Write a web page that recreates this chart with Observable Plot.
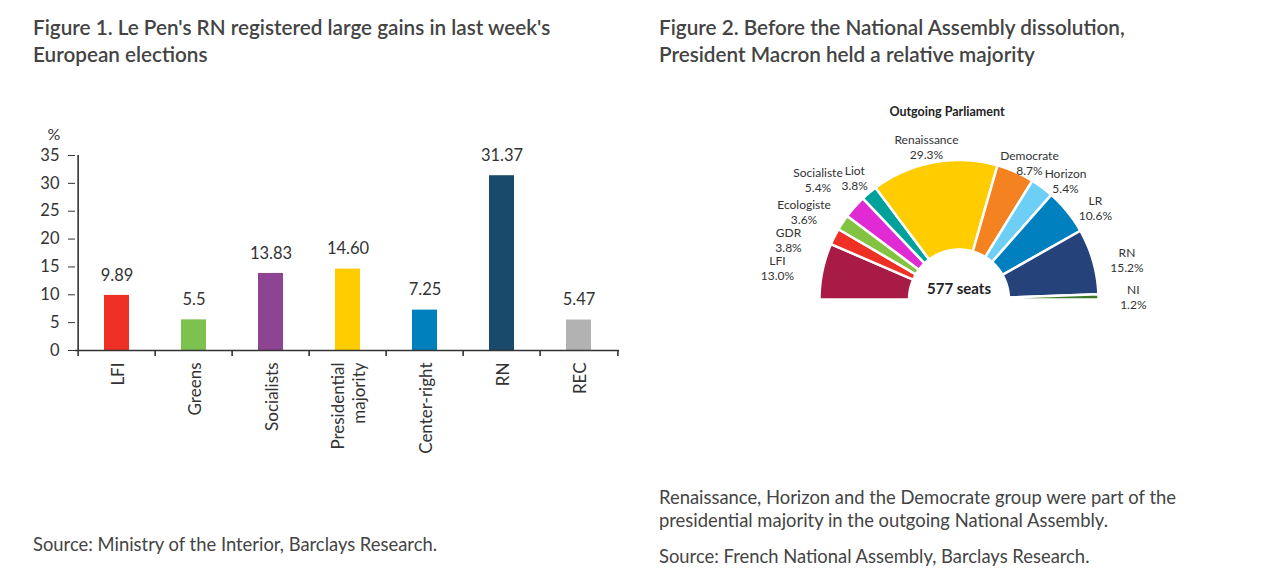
<!DOCTYPE html>
<html><head><meta charset="utf-8">
<script src="https://cdn.jsdelivr.net/npm/d3@7"></script>
<script src="https://cdn.jsdelivr.net/npm/@observablehq/plot@0.6"></script>
<style>
body{margin:0;width:1280px;height:578px;position:relative;background:#fff;font-family:Lato,sans-serif;color:#444;overflow:hidden}
.t{position:absolute;font-size:20.7px;font-weight:600;line-height:27px;color:#444;white-space:nowrap}
.s{position:absolute;font-size:18.4px;line-height:23px;color:#444;white-space:nowrap}
#c1{position:absolute;left:0;top:120px}
#c2{position:absolute;left:640px;top:95px}
</style></head><body>
<div class="t" style="left:33px;top:14px">Figure 1. Le Pen's RN registered large gains in last week's<br>European elections</div>
<div class="t" style="left:659px;top:14px">Figure 2. Before the National Assembly dissolution,<br>President Macron held a relative majority</div>
<div id="c1"></div>
<div id="c2"></div>
<div class="s" style="left:33px;top:533px">Source: Ministry of the Interior, Barclays Research.</div>
<div class="s" style="left:659px;top:486px">Renaissance, Horizon and the Democrate group were part of the<br>presidential majority in the outgoing National Assembly.</div>
<div class="s" style="left:659px;top:545px">Source: French National Assembly, Barclays Research.</div>
<script>
// ---- Figure 1 data ----
const euroParties = ["LFI","Greens","Socialists","Presidential\nmajority","Center-right","RN","REC"];
const euroVotes = [9.89, 5.5, 13.83, 14.60, 7.25, 31.37, 5.47];
const euroLabels = ["9.89","5.5","13.83","14.60","7.25","31.37","5.47"];
const euroColors = ["#EE3124","#7DC24E","#8D4493","#FFCC00","#0080BC","#1A4A6B","#B2B2B2"];
const yTicks = [0,5,10,15,20,25,30,35];

// ---- Figure 2 data ----
const seatParties = ["LFI","GDR","Ecologiste","Socialiste","Liot","Renaissance","Democrate","Horizon","LR","RN","NI"];
const seatShares = [13.0, 3.8, 3.6, 5.4, 3.8, 29.3, 8.7, 5.4, 10.6, 15.2, 1.2];
const seatColors = ["#A91B47","#EE3124","#82C341","#E02BD4","#00A19A","#FFCC00","#F58220","#6DCFF6","#0080BF","#25437A","#3C7A2A"];
const seatTotal = 577;

// ---- Figure 1 ----
const bars = euroParties.map((p,i)=>({party:p, value:euroVotes[i], label:euroLabels[i]}));
const W1=640, H1=360, mL=75, mR=21, mT=35, mB=130;
const step = (W1-mL-mR)/euroParties.length;
const frameH = H1-mT-mB;
const fig1 = Plot.plot({
  width:W1, height:H1, marginLeft:mL, marginRight:mR, marginTop:mT, marginBottom:mB,
  style:{fontFamily:"Lato, sans-serif", fontSize:"16px", color:"#333", background:"transparent", overflow:"visible"},
  x:{domain:euroParties, paddingInner:0.68, paddingOuter:0.34, axis:null},
  y:{domain:[0,35], axis:null},
  color:{domain:euroParties, range:euroColors},
  marks:[
    Plot.barY(bars,{x:"party", y:"value", fill:"party"}),
    Plot.text(bars,{x:"party", y:"value", text:"label", dy:-20, fontSize:16.5, fill:"#333"}),
    Plot.axisY({ticks:yTicks, tickSize:7, tickPadding:9, fontSize:16.5, stroke:"#333", fill:"#333", label:null}),
    Plot.axisX({tickRotate:-90, tickSize:0, tickPadding:12, fontSize:17, lineHeight:1.2, fill:"#333", label:null}),
    Plot.ruleY([0],{stroke:"#333", strokeWidth:1.6}),
    Plot.ruleX([euroParties[0]],{x:d=>d, dx:-step/2, stroke:"#333", strokeWidth:1.6}),
    Plot.ruleX(euroParties,{x:d=>d, dx:-step/2, insetTop:frameH, insetBottom:-6, stroke:"#333", strokeWidth:1.6}),
    Plot.ruleX([euroParties[euroParties.length-1]],{x:d=>d, dx:step/2, insetTop:frameH, insetBottom:-6, stroke:"#333", strokeWidth:1.6}),
    Plot.text(["%"],{frameAnchor:"top-left", dx:-28, dy:-27, fontSize:16, fill:"#333"})
  ]
});
document.getElementById("c1").append(fig1);

// ---- Figure 2 ----
const W2=640, H2=250, mL2=179, mR2=182, mT2=64.5, mB2=46;
const unitPx = (W2-mL2-mR2)/2;
const innerR = 0.358;
const arcSteps = 48;
const slicePts = [];
const mids = [];
let cum = 0;
seatParties.forEach((p,i)=>{
  const a0 = Math.PI - cum/100*Math.PI;
  cum += seatShares[i];
  const a1 = Math.PI - cum/100*Math.PI;
  const pts = [];
  for (let k=0;k<=arcSteps;k++){ const a=a0+(a1-a0)*k/arcSteps; pts.push({party:p, x:Math.cos(a), y:Math.sin(a)}); }
  for (let k=arcSteps;k>=0;k--){ const a=a0+(a1-a0)*k/arcSteps; pts.push({party:p, x:innerR*Math.cos(a), y:innerR*Math.sin(a)}); }
  pts.push({...pts[0]});
  slicePts.push(...pts);
  mids.push((a0+a1)/2);
});
// label layout: spread angles, then resolve remaining box collisions in pixel space
const labFont = 12, labLH = 15;
const minSep = 10*Math.PI/180;
const ang = mids.slice();
for (let it=0; it<200; it++){
  for (let i=0;i<ang.length-1;i++){
    const gap = ang[i]-ang[i+1];
    if (gap < minSep){ const d=(minSep-gap)/2; ang[i]+=d; ang[i+1]-=d; }
  }
}
const ctx = document.createElement("canvas").getContext("2d");
ctx.font = `${labFont}px Lato`;
const labs = seatParties.map((p,i)=>{
  const lines = [p, `${seatShares[i].toFixed(1)}%`];
  const c = Math.cos(ang[i]), s = Math.sin(ang[i]);
  const rx = 1.29 - 0.04*c, ry = 1.1 - 0.07*c;
  return {party:p, lines, w:lines.map(t=>ctx.measureText(t).width),
          px:rx*c*unitPx, py:ry*s*unitPx};
});
const halfH = 6.5, padX = 2;
for (let it=0; it<300; it++){
  let moved = false;
  for (let i=0;i<labs.length;i++) for (let j=i+1;j<labs.length;j++){
    const A=labs[i], B=labs[j];
    for (let la=0; la<2; la++) for (let lb=0; lb<2; lb++){
      const ay = A.py + (la===0? labLH/2 : -labLH/2);
      const by = B.py + (lb===0? labLH/2 : -labLH/2);
      const dx = B.px - A.px, dy = by - ay;
      const ox = (A.w[la]+B.w[lb])/2 + padX - Math.abs(dx);
      const oy = 2*halfH - Math.abs(dy);
      if (ox>0 && oy>0){
        moved = true;
        if (ox < oy){ const sft = (dx>=0?1:-1)*ox/2; A.px-=sft; B.px+=sft; }
        else { const sft = (dy>=0?1:-1)*oy/2; A.py-=sft; B.py+=sft; }
      }
    }
  }
  if (!moved) break;
}
const labels2 = labs.map(l=>({party:l.party, x:l.px/unitPx, y:l.py/unitPx, text:l.lines.join("\n")}));
const fig2 = Plot.plot({
  width:W2, height:H2, marginLeft:mL2, marginRight:mR2, marginTop:mT2, marginBottom:mB2,
  style:{fontFamily:"Lato, sans-serif", fontSize:"12px", color:"#333", background:"transparent", overflow:"visible"},
  x:{domain:[-1,1], axis:null},
  y:{domain:[0,1], axis:null},
  color:{domain:seatParties, range:seatColors},
  marks:[
    Plot.line(slicePts,{x:"x", y:"y", z:"party", fill:"party", stroke:"white", strokeWidth:2.5, strokeLinejoin:"miter", curve:"linear"}),
    Plot.text(labels2,{x:"x", y:"y", text:"text", fontSize:labFont, lineHeight:labLH/labFont, fill:"#333"}),
    Plot.text([`${seatTotal} seats`],{x:()=>0, y:()=>0, dy:-10, fontSize:15, fontWeight:"bold", fill:"#222"}),
    Plot.text(["Outgoing Parliament"],{frameAnchor:"top", dx:-12, dy:-53, fontSize:12.5, fontWeight:"bold", fill:"#222"})
  ]
});
document.getElementById("c2").append(fig2);
</script>
</body></html>
